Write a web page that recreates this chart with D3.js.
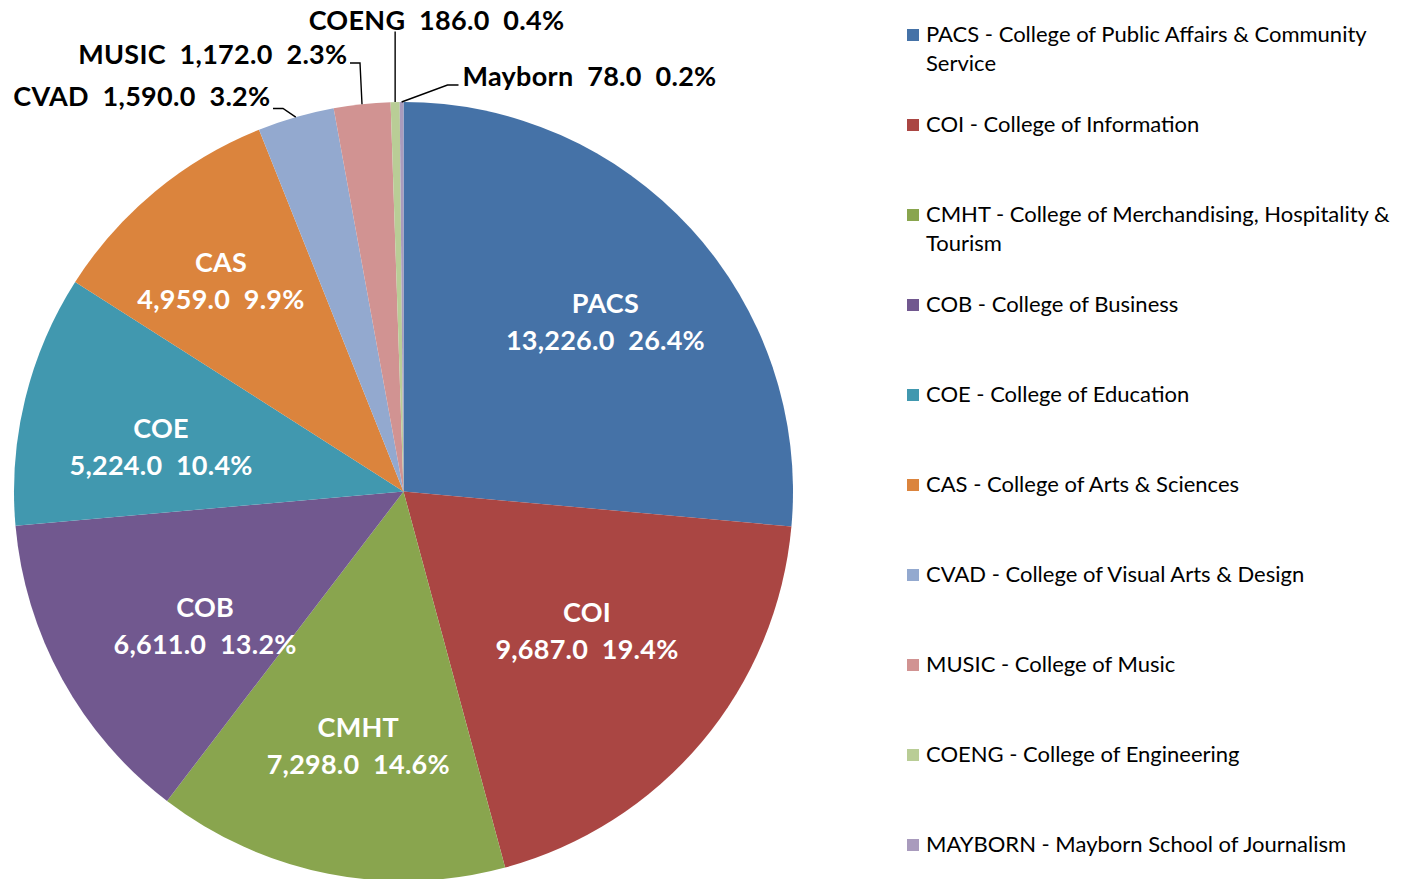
<!DOCTYPE html>
<html>
<head>
<meta charset="utf-8">
<script src="https://cdn.jsdelivr.net/npm/d3@7"></script>
<style>
	body { margin: 0; background: #fff; }
	svg text { font-family: Lato, "Open Sans", sans-serif; white-space: pre; }
	.inner-text { fill: #fff; font-weight: bold; font-size: 27px; letter-spacing: 0.25px; text-anchor: middle; }
	.outer-text { fill: #000; font-weight: bold; font-size: 27px; letter-spacing: 0.3px; }
	.legend-text { fill: #000; font-size: 22px; }
</style>
</head>
<body>
<div class="chart"></div>
<script>
var codes = ["PACS", "COI", "CMHT", "COB", "COE", "CAS", "CVAD", "MUSIC", "COENG", "Mayborn"];
var values = [13226, 9687, 7298, 6611, 5224, 4959, 1590, 1172, 186, 78];
var legendNames = [
	["PACS - College of Public Affairs & Community", "Service"],
	["COI - College of Information"],
	["CMHT - College of Merchandising, Hospitality &", "Tourism"],
	["COB - College of Business"],
	["COE - College of Education"],
	["CAS - College of Arts & Sciences"],
	["CVAD - College of Visual Arts & Design"],
	["MUSIC - College of Music"],
	["COENG - College of Engineering"],
	["MAYBORN - Mayborn School of Journalism"]
];
var colors = ["#4572A7", "#AA4643", "#89A54E", "#71588F", "#4198AF", "#DB843D", "#93A9CF", "#D19392", "#B9CD96", "#A99BBD"];
// inner label placement (best fit, like the original): share of radius, nudge in degrees
var labelRadius = [0.678, 0.59, 0.661, 0.614, 0.633, 0.717];
var labelNudge = [2.3, -3.0, -1.0, -5.1, -3.2, -1.2];

loadLayout()

function loadLayout() {
	var svg = d3.select(".chart")
				.append("svg:svg")
				.attr("width", 1412)
				.attr("height", 879);

	drawPie(svg, 403.5, 491.5, 389.5);
	drawLegend(svg, 907, 35, 90);
}

function fmt(v, total) {
	return d3.format(",.1f")(v) + "  " + d3.format(".1f")(v / total * 100) + "%";
}

function drawPie(svg, cx, cy, r) {
	var total = d3.sum(values);
	var pie = d3.pie().sort(null).value(function(d) { return d; });
	var arcs = pie(values);
	var arc = d3.arc().innerRadius(0).outerRadius(r);

	var g = svg.append("g").attr("transform", "translate(" + cx + "," + cy + ")");

	g.selectAll("path.slice")
		.data(arcs)
		.enter()
		.append("path")
		.attr("class", "slice")
		.attr("d", arc)
		.attr("fill", function(d, i) { return colors[i]; });

	// big slices: label inside
	for (var i = 0; i < 6; i++) {
		var lr = r * labelRadius[i];
		var a = (arcs[i].startAngle + arcs[i].endAngle) / 2 + labelNudge[i] * Math.PI / 180;
		var lx = Math.sin(a) * lr, ly = -Math.cos(a) * lr;
		g.append("text").attr("class", "inner-text")
			.attr("x", lx).attr("y", ly - 8)
			.text(codes[i]);
		g.append("text").attr("class", "inner-text")
			.attr("x", lx).attr("y", ly + 29)
			.text(fmt(values[i], total));
	}

	// small slices: label outside with a leader line
	// text: [x, y, anchor]; elbow: [from x, to x, y] -- all relative to pie center
	var outside = {
		6: { text: [-133, -386, "end"], elbow: [-130.5, -120.5, -383] },
		7: { text: [-56, -428, "end"], elbow: [-53.5, -43.5, -428.5] },
		8: { text: [33, -462, "middle"], elbow: null },
		9: { text: [59, -406, "start"], elbow: [55, 44, -406.5] }
	};
	for (var k in outside) {
		var o = outside[k];
		var a = (arcs[k].startAngle + arcs[k].endAngle) / 2;
		var px = Math.sin(a) * r, py = -Math.cos(a) * r;
		var pts;
		if (o.elbow) {
			pts = [[o.elbow[0], o.elbow[2]], [o.elbow[1], o.elbow[2]], [px, py]];
		} else {
			pts = [[px, o.text[1] + 2], [px, py]];
		}
		g.append("path")
			.attr("d", d3.line()(pts))
			.attr("fill", "none")
			.attr("stroke", "#000")
			.attr("stroke-width", 1.4);
		g.append("text").attr("class", "outer-text")
			.attr("x", o.text[0]).attr("y", o.text[1])
			.attr("text-anchor", o.text[2])
			.text(codes[k] + "  " + fmt(values[k], total));
	}
}

function drawLegend(svg, x, y, step) {
	for (var i = 0; i < legendNames.length; i++) {
		var yy = y + i * step;
		svg.append("rect")
			.attr("x", x).attr("y", yy - 6)
			.attr("width", 12).attr("height", 12)
			.attr("fill", colors[i]);
		var t = svg.append("text").attr("class", "legend-text")
			.attr("x", x + 19).attr("y", yy + 7);
		legendNames[i].forEach(function(line, j) {
			t.append("tspan").attr("x", x + 19).attr("dy", j == 0 ? 0 : 29).text(line);
		});
	}
}
</script>
</body>
</html>
